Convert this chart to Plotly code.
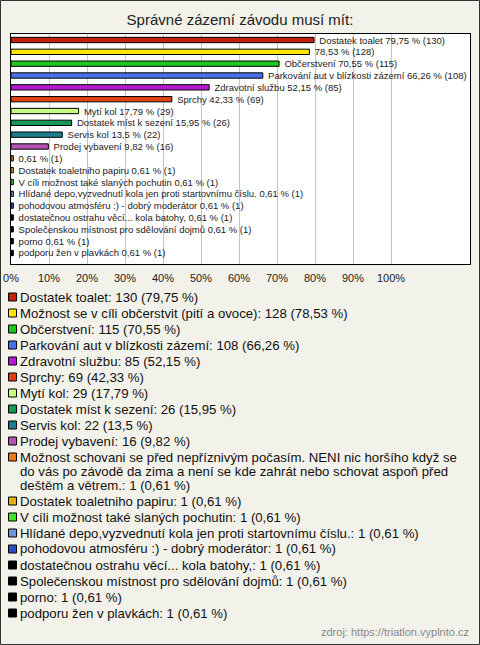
import textwrap
import plotly.graph_objects as go

# ---------------- data ----------------
title = "Správné zázemí závodu musí mít:"
categories = [
    "Dostatek toalet",
    "Možnost se v cíli občerstvit (pití a ovoce)",
    "Občerstvení",
    "Parkování aut v blízkosti zázemí",
    "Zdravotní službu",
    "Sprchy",
    "Mytí kol",
    "Dostatek míst k sezení",
    "Servis kol",
    "Prodej vybavení",
    "Možnost schovani se před nepříznivým počasím. NENI nic horšího když se do vás po závodě da zima a není se kde zahrát nebo schovat aspoň před deštěm a větrem.",
    "Dostatek toaletniho papiru",
    "V cíli možnost také slaných pochutin",
    "Hlídané depo,vyzvednutí kola jen proti startovnímu číslu.",
    "pohodovou atmosféru :) - dobrý moderátor",
    "dostatečnou ostrahu věcí... kola batohy,",
    "Společenskou místnost pro sdělování dojmů",
    "porno",
    "podporu žen v plavkách",
]
bar_names = [
    "Dostatek toalet", "", "Občerstvení", "Parkování aut v blízkosti zázemí",
    "Zdravotní službu", "Sprchy", "Mytí kol", "Dostatek míst k sezení",
    "Servis kol", "Prodej vybavení", "", "Dostatek toaletniho papiru",
    "V cíli možnost také slaných pochutin",
    "Hlídané depo,vyzvednutí kola jen proti startovnímu číslu.",
    "pohodovou atmosféru :) - dobrý moderátor",
    "dostatečnou ostrahu věcí... kola batohy,",
    "Společenskou místnost pro sdělování dojmů",
    "porno", "podporu žen v plavkách",
]
counts = [130, 128, 115, 108, 85, 69, 29, 26, 22, 16, 1, 1, 1, 1, 1, 1, 1, 1, 1]
percents = [79.75, 78.53, 70.55, 66.26, 52.15, 42.33, 17.79, 15.95, 13.5, 9.82,
            0.61, 0.61, 0.61, 0.61, 0.61, 0.61, 0.61, 0.61, 0.61]
colors = ["#c0200c", "#ffe600", "#1ec81e", "#4a72e8", "#b41ad2", "#e2400e",
          "#c6fa80", "#129a55", "#1e7c8c", "#b455b4", "#ee7a10", "#e6b010",
          "#44e022", "#7094dc", "#2a50c4", "#000000", "#000000", "#000000", "#000000"]
x_ticks = [0, 10, 20, 30, 40, 50, 60, 70, 80, 90, 100]
x_tick_labels = ["0%", "10%", "20%", "30%", "40%", "50%", "60%", "70%", "80%", "90%", "100%"]
source = "zdroj: https://triatlon.vyplnto.cz"

# ---------------- layout helpers ----------------
W, H = 480, 645
L, R, T, B = 11, 470, 34, 264
FONT = "Liberation Sans, Arial, sans-serif"


def px(x):
    return (x - L) / (R - L)


def py(y):
    return (B - y) / (B - T)


def fmt(p):
    return str(p).replace(".", ",")


n = len(categories)
ypos = list(range(n))
bar_text = []
for name, p, c in zip(bar_names, percents, counts):
    s = (name + " " if name else "") + f"{fmt(p)} % ({c})"
    bar_text.append("\u00a0\u00a0" + s)

fig = go.Figure()
fig.add_trace(go.Bar(
    x=percents, y=ypos, orientation="h", width=0.45,
    marker=dict(color=colors, line=dict(color="#000000", width=1)),
    text=bar_text, textposition="outside", constraintext="none",
    textfont=dict(family=FONT, size=9.5, color="#222222"),
    cliponaxis=False, hoverinfo="skip", showlegend=False,
))

annotations = []
shapes = []

# legend
yline = 297
for cat, c, p, col in zip(categories, counts, percents, colors):
    label = f"{cat}: {c} ({fmt(p)} %)"
    lines = textwrap.wrap(label, 70)
    shapes.append(dict(type="rect", xref="paper", yref="paper",
                       x0=px(8.5), x1=px(16.5), y0=py(yline + 4), y1=py(yline - 4),
                       fillcolor=col, line=dict(color="#000000", width=1)))
    for k, ln in enumerate(lines):
        annotations.append(dict(xref="paper", yref="paper", x=px(18), y=py(yline + k * 14),
                                xanchor="left", yanchor="middle", showarrow=False,
                                text=ln, font=dict(family=FONT, size=13.2, color="#111111")))
    yline += 16 + 14 * (len(lines) - 1)

annotations.append(dict(xref="paper", yref="paper", x=px(471), y=py(632),
                        xanchor="right", yanchor="middle", showarrow=False,
                        text=source, font=dict(family=FONT, size=11, color="#888888")))

# outer frame
shapes.append(dict(type="rect", xref="paper", yref="paper",
                   x0=px(0.5), x1=px(479.5), y0=py(644.5), y1=py(0.5),
                   line=dict(color="#333333", width=1), layer="above"))

fig.update_layout(
    width=W, height=H,
    margin=dict(l=L, r=W - R, t=T, b=H - B, pad=0, autoexpand=False),
    paper_bgcolor="#f3f2ea", plot_bgcolor="#ffffff",
    title=dict(text=title, x=0.5, xref="container", xanchor="center",
               y=1 - 20 / H, yref="container", yanchor="middle",
               font=dict(family=FONT, size=15, color="#222222")),
    xaxis=dict(range=[0, (R - L) / 3.8], tickvals=x_ticks, ticktext=x_tick_labels,
               showgrid=True, gridcolor="#c4c4c4", gridwidth=1, zeroline=False,
               showline=True, mirror=True, linecolor="#000000", linewidth=1,
               ticks="", tickfont=dict(family=FONT, size=11, color="#222222"),
               ticklabelstandoff=4, automargin=False, fixedrange=True),
    yaxis=dict(range=[18 + (B - 253) / 11.83, -(40 - T) / 11.83],
               showticklabels=False, showgrid=False, zeroline=False,
               showline=True, mirror=True, linecolor="#000000", linewidth=1,
               ticks="", automargin=False, fixedrange=True),
    annotations=annotations, shapes=shapes,
    bargap=0.5,
)

fig.write_html(
    "out.html",
    config={"displayModeBar": False, "responsive": False},
    post_script="document.body.style.margin='0';document.body.style.overflow='hidden';",
)
